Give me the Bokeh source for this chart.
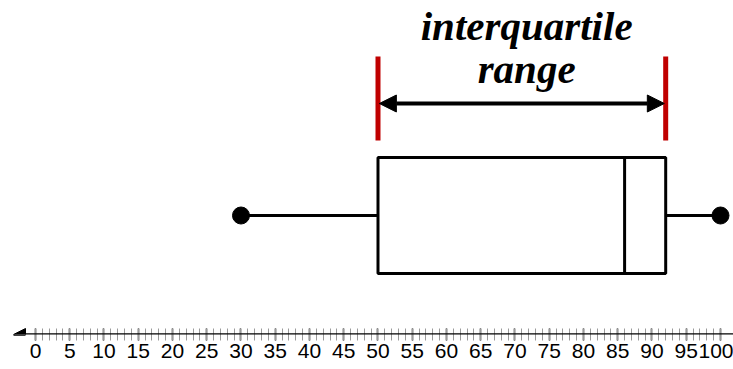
from bokeh.plotting import figure
from bokeh.models import Range1d, FixedTicker, Arrow, NormalHead, LinearAxis
from bokeh.core.properties import value
from bokeh.embed import file_html
from bokeh.resources import INLINE

# five-number summary
minimum = 30
q1 = 50
median = 86
q3 = 92
maximum = 100

major_ticks = list(range(0, 101, 5))
minor_ticks = list(range(0, 101, 1))
title_lines = ["interquartile", "range"]

X0, X1 = -5.109, 101.898
p = figure(frame_width=733, frame_height=334, output_backend="svg", toolbar_location=None,
           x_range=Range1d(X0, X1), y_range=Range1d(0, 334),
           x_axis_location=None, y_axis_location=None,
           min_border_left=0, min_border_right=0, min_border_top=0, min_border_bottom=0)
p.outline_line_color = None
p.grid.visible = False
p.background_fill_color = "white"

ax = LinearAxis(ticker=FixedTicker(ticks=major_ticks, minor_ticks=minor_ticks))
ax.axis_line_color = None
ax.major_tick_in = 6
ax.major_tick_out = 6
ax.major_tick_line_width = 1.5
ax.major_tick_line_color = "black"
ax.minor_tick_in = 6
ax.minor_tick_out = 6
ax.minor_tick_line_width = 1
ax.minor_tick_line_color = "#9a9a9a"
ax.major_label_text_font = "Liberation Sans"
ax.major_label_text_font_size = "21px"
ax.major_label_text_color = "black"
ax.major_label_standoff = 3
p.add_layout(ax, "below")

# number line with left arrowhead
p.add_layout(Arrow(x_start=X1, x_end=-3.21, y_start=0, y_end=0, line_width=2.5, line_color="black",
                   end=NormalHead(size=12, fill_color="black", line_color="black"), start=None))

box_bottom, box_top, mid = 61, 177, 119
# box
p.quad(left=[q1], right=[q3], bottom=[box_bottom], top=[box_top],
       fill_color="white", line_color="black", line_width=3)
# median
p.segment(x0=[median], x1=[median], y0=[box_bottom], y1=[box_top], line_color="black", line_width=3)
# whiskers
p.segment(x0=[minimum, q3], x1=[q1, maximum], y0=[mid, mid], y1=[mid, mid], line_color="black", line_width=3)
p.scatter(x=[minimum, maximum], y=[mid, mid], size=17, color="black")

# IQR markers
p.segment(x0=[q1, q3], x1=[q1, q3], y0=[194, 194], y1=[278, 278], line_color="#c00000", line_width=5)
p.add_layout(Arrow(x_start=q1 + 0.2, x_end=q3 - 0.2, y_start=231, y_end=231, line_width=4, line_color="black",
                   start=NormalHead(size=17, fill_color="black", line_color="black"),
                   end=NormalHead(size=17, fill_color="black", line_color="black")))

cx = (q1 + q3) / 2 + 0.7
p.text(x=[cx, cx], y=[309, 266], text=title_lines, text_font=value("Liberation Serif"),
       text_font_style="bold italic", text_font_size="41px", text_align="center",
       text_baseline="alphabetic", text_color="black")

open("out.html", "w").write(file_html(p, INLINE))
